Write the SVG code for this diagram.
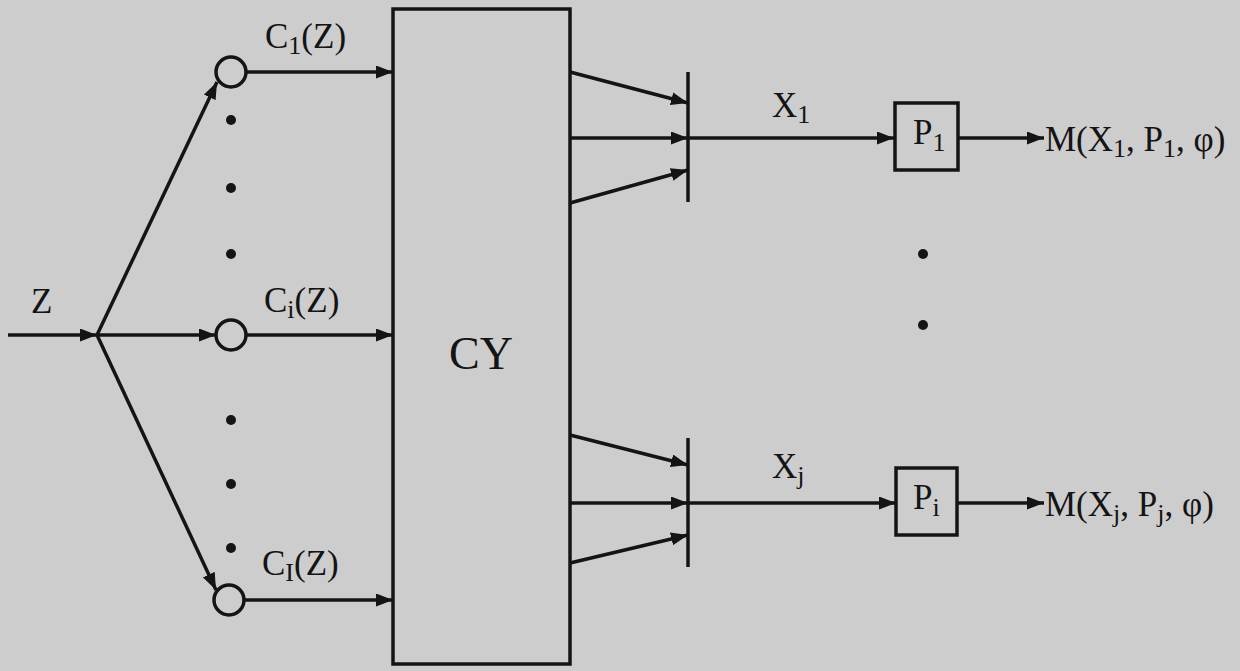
<svg xmlns="http://www.w3.org/2000/svg" width="1240" height="671" viewBox="0 0 1240 671">
<style>
.ln{stroke:#141414;stroke-width:3.5;fill:none}
.arr{marker-end:url(#ah)}
.nd{stroke:#141414;stroke-width:3.5;fill:none}
.t{font-family:"Liberation Serif","DejaVu Serif",serif;font-size:35px;fill:#141414}
.s{font-size:26px}
.big{font-size:46px}
.dot{fill:#141414}
</style>
<defs>
<marker id="ah" markerUnits="userSpaceOnUse" markerWidth="17" markerHeight="13" refX="17" refY="6.5" orient="auto">
<path d="M0,0 L17,6.5 L0,13 Z" fill="#141414"/>
</marker>
</defs>
<rect x="0" y="0" width="1240" height="671" fill="#cdcdcd"/>
<g id="connectors">
<line class="ln arr" x1="8" y1="335" x2="97" y2="335"/>
<line class="ln arr" x1="97" y1="335" x2="216" y2="335"/>
<line class="ln arr" x1="97" y1="335" x2="217" y2="82"/>
<line class="ln arr" x1="97" y1="335" x2="216" y2="590"/>
<line class="ln arr" x1="246" y1="72" x2="393" y2="72"/>
<line class="ln arr" x1="246" y1="335" x2="393" y2="335"/>
<line class="ln arr" x1="244" y1="600" x2="393" y2="600"/>
<line class="ln arr" x1="570" y1="72" x2="688" y2="103"/>
<line class="ln arr" x1="570" y1="138" x2="688" y2="138"/>
<line class="ln arr" x1="570" y1="203" x2="688" y2="170"/>
<line class="ln arr" x1="688" y1="138" x2="894" y2="138"/>
<line class="ln arr" x1="959" y1="138" x2="1044" y2="138"/>
<line class="ln arr" x1="570" y1="435" x2="688" y2="465"/>
<line class="ln arr" x1="570" y1="503" x2="688" y2="503"/>
<line class="ln arr" x1="570" y1="563" x2="688" y2="535"/>
<line class="ln arr" x1="688" y1="503" x2="896" y2="503"/>
<line class="ln arr" x1="957" y1="503" x2="1044" y2="503"/>
</g>
<g id="input-z">
<text class="t" x="31" y="313">Z</text>
</g>
<g id="circle-c1">
<circle class="nd" cx="231" cy="72" r="15"/>
<text class="t" x="265" y="48">C<tspan class="s" dy="6">1</tspan><tspan dy="-6">(Z)</tspan></text>
</g>
<g id="circle-ci">
<circle class="nd" cx="231" cy="335" r="15"/>
<text class="t" x="264" y="312">C<tspan class="s" dy="6">i</tspan><tspan dy="-6">(Z)</tspan></text>
</g>
<g id="circle-cI">
<circle class="nd" cx="229" cy="600" r="15"/>
<text class="t" x="262" y="575">C<tspan class="s" dy="6">I</tspan><tspan dy="-6">(Z)</tspan></text>
</g>
<g id="dots-left">
<circle class="dot" cx="231" cy="120" r="5"/>
<circle class="dot" cx="231" cy="188" r="5"/>
<circle class="dot" cx="231" cy="254" r="5"/>
<circle class="dot" cx="231" cy="420" r="5"/>
<circle class="dot" cx="231" cy="484" r="5"/>
<circle class="dot" cx="231" cy="548" r="5"/>
</g>
<g id="box-cy">
<rect class="nd" x="393" y="9" width="177" height="655"/>
<text class="t big" x="449" y="369">CY</text>
</g>
<g id="bar-1">
<line class="ln" x1="688" y1="72" x2="688" y2="202"/>
<text class="t" x="772" y="117">X<tspan class="s" dy="6">1</tspan></text>
</g>
<g id="box-p1">
<rect class="nd" x="895" y="103" width="63" height="67"/>
<text class="t" x="913" y="144">P<tspan class="s" dy="7">1</tspan></text>
</g>
<g id="out-1">
<text class="t" x="1045" y="151">M(X<tspan class="s" dy="6">1</tspan><tspan dy="-6">, P</tspan><tspan class="s" dy="6">1</tspan><tspan dy="-6">, φ)</tspan></text>
</g>
<g id="dots-right">
<circle class="dot" cx="923" cy="254" r="5"/>
<circle class="dot" cx="923" cy="325" r="5"/>
</g>
<g id="bar-j">
<line class="ln" x1="688" y1="438" x2="688" y2="567"/>
<text class="t" x="772" y="478">X<tspan class="s" dy="6">j</tspan></text>
</g>
<g id="box-pi">
<rect class="nd" x="896" y="468" width="61" height="67"/>
<text class="t" x="913" y="509">P<tspan class="s" dy="7">i</tspan></text>
</g>
<g id="out-j">
<text class="t" x="1045" y="516">M(X<tspan class="s" dy="6">j</tspan><tspan dy="-6">, P</tspan><tspan class="s" dy="6">j</tspan><tspan dy="-6">, φ)</tspan></text>
</g>
</svg>
